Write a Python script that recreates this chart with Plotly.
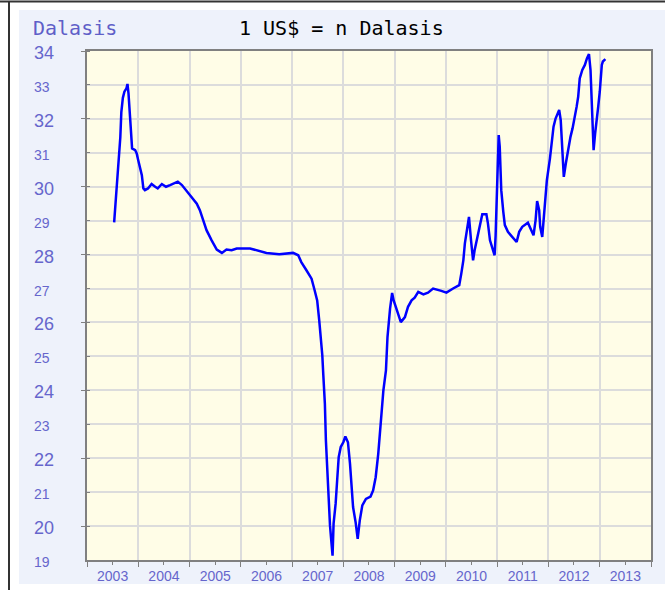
import datetime as dt
import plotly.graph_objects as go

# decimal years and values (Dalasis per US$)
years = [
    2003.53, 2003.57, 2003.59, 2003.62, 2003.65, 2003.67, 2003.70, 2003.73, 2003.77, 2003.79,
    2003.81, 2003.84, 2003.86, 2003.88, 2003.94, 2003.97, 2004.00, 2004.03, 2004.07, 2004.10,
    2004.13, 2004.19, 2004.26, 2004.33, 2004.38, 2004.46, 2004.54, 2004.62, 2004.72, 2004.77,
    2004.85, 2004.94, 2005.04, 2005.14, 2005.20, 2005.27, 2005.33, 2005.43, 2005.53, 2005.63,
    2005.72, 2005.82, 2005.92, 2006.18, 2006.31, 2006.50, 2006.75, 2007.02, 2007.12, 2007.18,
    2007.28, 2007.38, 2007.44, 2007.49, 2007.53, 2007.56, 2007.59, 2007.61, 2007.64, 2007.66,
    2007.69, 2007.72, 2007.74, 2007.77, 2007.79, 2007.81, 2007.85, 2007.88, 2007.91, 2007.95,
    2008.00, 2008.04, 2008.09, 2008.13, 2008.16, 2008.19, 2008.24, 2008.28, 2008.32, 2008.37,
    2008.44, 2008.53, 2008.58, 2008.63, 2008.68, 2008.72, 2008.78, 2008.83, 2008.86, 2008.91,
    2008.95, 2008.98, 2009.04, 2009.12, 2009.20, 2009.26, 2009.33, 2009.39, 2009.46, 2009.56,
    2009.65, 2009.75, 2009.91, 2010.01, 2010.14, 2010.26, 2010.30, 2010.34, 2010.37, 2010.40,
    2010.43, 2010.45, 2010.49, 2010.53, 2010.56, 2010.61, 2010.66, 2010.71, 2010.79, 2010.82,
    2010.86, 2010.91, 2010.95, 2010.97, 2010.99, 2011.01, 2011.03, 2011.05, 2011.08, 2011.12,
    2011.15, 2011.21, 2011.31, 2011.38, 2011.43, 2011.49, 2011.60, 2011.67, 2011.71, 2011.75,
    2011.78, 2011.82, 2011.84, 2011.88, 2011.91, 2011.94, 2011.97, 2012.03, 2012.06, 2012.10,
    2012.14, 2012.21, 2012.24, 2012.27, 2012.29, 2012.30, 2012.34, 2012.38, 2012.43, 2012.47,
    2012.51, 2012.55, 2012.58, 2012.61, 2012.66, 2012.71, 2012.75, 2012.79, 2012.82, 2012.84,
    2012.86, 2012.88, 2012.91, 2012.94, 2012.97, 2013.00, 2013.02, 2013.04, 2013.06, 2013.11,
]
rates = [
    28.95, 29.70, 30.15, 30.73, 31.45, 32.20, 32.62, 32.80, 32.90, 33.03,
    32.75, 32.06, 31.42, 31.13, 31.08, 30.98, 30.78, 30.54, 30.34, 29.95,
    29.90, 29.95, 30.08, 30.00, 29.95, 30.08, 30.00, 30.05, 30.13, 30.15,
    30.05, 29.88, 29.70, 29.50, 29.31, 28.96, 28.72, 28.42, 28.15, 28.05,
    28.15, 28.13, 28.18, 28.18, 28.13, 28.05, 28.01, 28.05, 27.98, 27.78,
    27.54, 27.29, 26.95, 26.65, 26.06, 25.62, 25.03, 24.44, 23.61, 22.53,
    21.40, 20.61, 20.02, 19.48, 19.13, 20.07, 20.66, 21.35, 22.03, 22.33,
    22.47, 22.64, 22.47, 21.84, 21.15, 20.56, 20.11, 19.62, 20.16, 20.61,
    20.80, 20.87, 21.05, 21.44, 22.13, 22.92, 24.00, 24.59, 25.57, 26.41,
    26.87, 26.65, 26.36, 26.01, 26.16, 26.46, 26.65, 26.73, 26.90, 26.83,
    26.88, 27.00, 26.93, 26.88, 27.00, 27.10, 27.44, 27.83, 28.33, 28.62,
    28.92, 29.11, 28.42, 27.83, 28.13, 28.52, 28.82, 29.19, 29.19, 28.92,
    28.42, 28.18, 27.98, 28.57, 29.75, 30.88, 31.52, 31.18, 29.90, 29.26,
    28.87, 28.67, 28.50, 28.37, 28.67, 28.82, 28.94, 28.72, 28.57, 29.01,
    29.58, 29.31, 28.82, 28.52, 29.11, 29.80, 30.19, 30.83, 31.23, 31.77,
    32.01, 32.26, 31.96, 31.28, 30.64, 30.29, 30.69, 31.08, 31.47, 31.72,
    32.01, 32.36, 32.65, 33.19, 33.44, 33.59, 33.78, 33.91, 33.44, 32.50,
    31.57, 31.08, 31.57, 31.91, 32.36, 32.80, 33.24, 33.59, 33.69, 33.76,
]
y_labels = list(range(19, 35))
x_range = ["2003-01-01", "2014-01-01"]
title_text = "1 US$ = n Dalasis"
unit_text = "Dalasis"

assert len(years) == len(rates)


def to_date(dy):
    y = int(dy)
    start = dt.datetime(y, 1, 1)
    end = dt.datetime(y + 1, 1, 1)
    return start + (end - start) * (dy - y)


dates = [to_date(v) for v in years]

# pixel geometry helpers
L, R, T, B = 87, 651, 51, 560
W, H = 665, 590


def px(x):
    return (x - L) / (R - L)


def py(y):
    return (B - y) / (B - T)


LABEL = "#6666cc"
GRID = "#dcdcdc"
AXIS = "#808080"

fig = go.Figure()
fig.add_trace(go.Scatter(x=dates, y=rates, mode="lines",
                         line=dict(color="#0000ff", width=2.5), hoverinfo="x+y"))

shapes = [
    dict(type="rect", xref="paper", yref="paper", x0=px(19), x1=px(670), y0=py(584), y1=py(10),
         fillcolor="#eef2fb", line=dict(width=0), layer="below"),
    dict(type="rect", xref="paper", yref="paper", x0=0, x1=1, y0=0, y1=1,
         fillcolor="#fffde7", line=dict(width=0), layer="below"),
    dict(type="line", xref="paper", yref="paper", x0=px(0), x1=px(670), y0=py(1.5), y1=py(1.5),
         line=dict(color="#333333", width=2)),
    dict(type="line", xref="paper", yref="paper", x0=px(9), x1=px(9), y0=py(595), y1=py(1.5),
         line=dict(color="#333333", width=2)),
]

annotations = []
for v in y_labels:
    annotations.append(dict(
        x=px(32), xref="paper", y=v, yref="y", text=str(v), showarrow=False,
        xanchor="left", yanchor="middle", yshift=-2,
        font=dict(family="Liberation Sans", size=18 if v % 2 == 0 else 14, color=LABEL)))
annotations.append(dict(
    x=px(31), xref="paper", y=py(28), yref="paper", text=unit_text, showarrow=False,
    xanchor="left", yanchor="middle",
    font=dict(family="DejaVu Sans Mono", size=20, color="#5f5fc8")))
annotations.append(dict(
    x=px(341), xref="paper", y=py(28), yref="paper", text=title_text,
    showarrow=False, xanchor="center", yanchor="middle",
    font=dict(family="DejaVu Sans Mono", size=20, color="#000000")))

fig.update_layout(
    width=W, height=H, autosize=False,
    margin=dict(l=L, r=W - R, t=T, b=H - B, pad=0, autoexpand=False),
    paper_bgcolor="#ffffff",
    plot_bgcolor="rgba(0,0,0,0)",
    showlegend=False,
    shapes=shapes,
    annotations=annotations,
    xaxis=dict(
        type="date", range=x_range, tick0="2003-01-01", dtick="M12",
        ticklabelmode="period", tickformat="%Y", ticklabelstandoff=-3,
        automargin=False,
        showgrid=True, gridcolor=GRID, gridwidth=2,
        ticks="outside", ticklen=5, tickcolor=AXIS,
        tickfont=dict(family="Liberation Sans", size=14, color=LABEL),
        showline=True, linecolor=AXIS, linewidth=1.5, mirror=True,
        zeroline=False,
        minor=dict(dtick="M6", tick0="2003-01-01", ticks="outside", ticklen=3,
                   tickcolor=AXIS, showgrid=False),
    ),
    yaxis=dict(
        range=[19, 34], tick0=20, dtick=2,
        automargin=False,
        showgrid=True, gridcolor=GRID, gridwidth=2,
        ticks="outside", ticklen=4, tickcolor=AXIS,
        showticklabels=False,
        showline=True, linecolor=AXIS, linewidth=1.5, mirror=True,
        zeroline=False,
        minor=dict(dtick=1, tick0=19, ticks="inside", ticklen=3, tickcolor=AXIS,
                   showgrid=True, gridcolor=GRID, gridwidth=2),
    ),
)

fig.write_html("out.html", config={"displayModeBar": False},
               post_script="document.body.style.margin='0';")
